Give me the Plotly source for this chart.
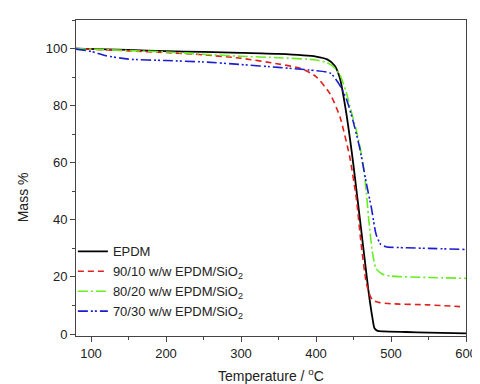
import plotly.graph_objects as go

# Data (Temperature °C, Mass %)
epdm_T = [80, 150, 200, 250, 300, 350, 400, 415, 425, 432, 440, 445, 450, 455, 460, 465, 470, 475, 478, 482, 490, 520, 550, 600]
epdm_M = [100, 99.5, 99.1, 98.8, 98.5, 98.1, 97.2, 96.2, 94.0, 89.5, 78, 69, 59, 48, 37, 26, 15, 6, 2, 1.1, 0.9, 0.7, 0.5, 0.2]

r90_T = [80, 150, 200, 250, 300, 350, 380, 400, 419, 432, 445, 454, 460, 467, 472, 476, 485, 500, 550, 592]
r90_M = [100, 99.2, 98.6, 97.8, 96.6, 94.6, 93.0, 90.2, 84.0, 76, 62, 47, 32, 18, 13.5, 11.8, 11.0, 10.6, 10.2, 9.6]

r80_T = [80, 150, 200, 250, 300, 350, 400, 415, 425, 432, 440, 445, 455, 462, 467, 470, 475, 480, 488, 500, 550, 600]
r80_M = [100, 99.3, 98.8, 98.0, 97.3, 96.8, 96.0, 95.0, 93.2, 90.7, 85, 80, 70, 61, 50, 41, 29, 23, 21, 20.3, 19.8, 19.5]

r70_T = [80, 100, 120, 150, 200, 250, 300, 350, 390, 419, 432, 441, 449, 458, 467, 474, 480, 486, 493, 520, 550, 600]
r70_M = [99.8, 99.0, 97.5, 96.3, 95.8, 95.3, 94.4, 93.4, 92.5, 91.4, 87, 82, 75, 65.5, 53, 44, 35, 31.5, 30.6, 30.2, 30.0, 29.6]

names = ["EPDM",
         "90/10 w/w EPDM/SiO<sub>2</sub>",
         "80/20 w/w EPDM/SiO<sub>2</sub>",
         "70/30 w/w EPDM/SiO<sub>2</sub>"]
colors = ["#000000", "#e0201c", "#66ee22", "#1c1cd0"]
dashes = ["solid", "6px,4px", "10px,3px,2px,3px", "10px,3px,2px,2px,2px,3px"]
widths = [1.8, 1.6, 1.6, 1.6]

fig = go.Figure()
for T, M, n, c, d, w in zip([epdm_T, r90_T, r80_T, r70_T],
                            [epdm_M, r90_M, r80_M, r70_M],
                            names, colors, dashes, widths):
    fig.add_trace(go.Scatter(x=T, y=M, mode="lines", name=n,
                             line=dict(color=c, dash=d, width=w, shape="spline", smoothing=0.6)))

FONT = "Liberation Sans, Arial"
axis_common = dict(showgrid=False, zeroline=False, showline=True, linecolor="#444",
                   linewidth=1, mirror=True, ticks="outside", ticklen=5, tickcolor="#444",
                   tickfont=dict(family=FONT, size=13, color="#222"))

fig.update_xaxes(range=[80, 600], tickvals=[100, 200, 300, 400, 500, 600],
                 minor=dict(dtick=50, tick0=0, ticks="outside", ticklen=3, tickcolor="#444"),
                 title=dict(text="Temperature / <sup>o</sup>C", standoff=11,
                            font=dict(family=FONT, size=14, color="#222")),
                 **axis_common)
fig.update_yaxes(range=[-0.7, 110], tickvals=[0, 20, 40, 60, 80, 100],
                 minor=dict(dtick=10, tick0=0, ticks="outside", ticklen=3, tickcolor="#444"),
                 **axis_common)

fig.add_annotation(text="Mass %", xref="paper", yref="paper",
                   x=-0.135, y=0.44, xanchor="center", yanchor="middle",
                   textangle=-90, showarrow=False,
                   font=dict(family=FONT, size=14, color="#222"))

fig.update_layout(
    width=480, height=384,
    margin=dict(l=68, r=11, t=12, b=51),
    paper_bgcolor="white", plot_bgcolor="white",
    showlegend=True,
    legend=dict(x=-0.008, y=0.315, xanchor="left", yanchor="top",
                bgcolor="rgba(0,0,0,0)", tracegroupgap=0, itemwidth=30,
                font=dict(family=FONT, size=13, color="#222")),
)

fig.write_html("out.html")
